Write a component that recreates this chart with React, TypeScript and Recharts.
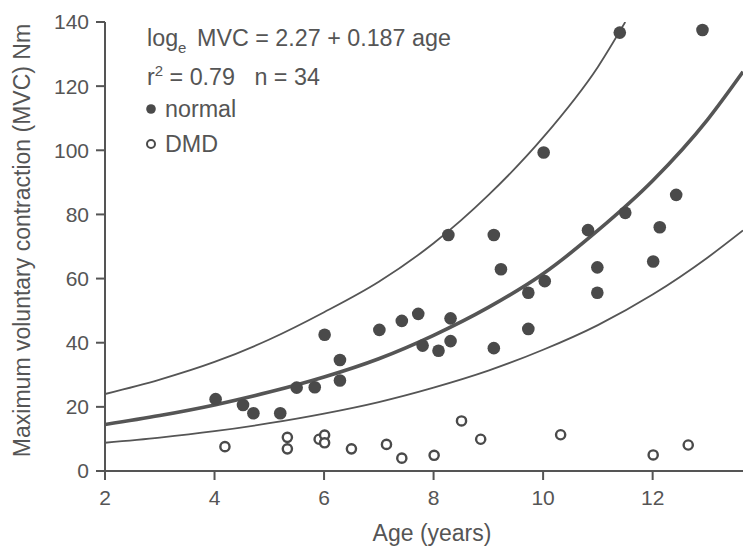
import React from 'react';
import { ComposedChart, XAxis, YAxis, Line, Scatter } from 'recharts';

// Tick labels
const xTicks = [2, 4, 6, 8, 10, 12];
const yTicks = [0, 20, 40, 60, 80, 100, 120, 140];

// Normal subjects (filled circles)
const normalAge = [4.02, 4.52, 4.71, 5.2, 5.5, 5.83, 6.01, 6.29, 6.29, 7.01, 7.42, 7.72, 7.8, 8.09, 8.27, 8.31, 8.31, 9.1, 9.23, 9.1, 9.73, 9.73, 10.03, 10.01, 10.82, 10.99, 10.99, 11.5, 12.13, 12.01, 12.43, 11.4, 12.91];
const normalMVC = [22.4, 20.6, 18.0, 18.0, 26.0, 26.1, 42.5, 34.6, 28.2, 44.0, 46.8, 49.0, 39.1, 37.5, 73.6, 47.6, 40.5, 73.6, 62.9, 38.3, 55.6, 44.3, 59.2, 99.3, 75.1, 63.5, 55.6, 80.5, 76.0, 65.3, 86.1, 136.7, 137.5];

// DMD subjects (open circles)
const dmdAge = [4.19, 5.33, 5.33, 5.91, 6.01, 6.01, 6.5, 7.14, 7.42, 8.01, 8.51, 8.86, 10.32, 12.01, 12.65];
const dmdMVC = [7.6, 10.5, 6.9, 9.9, 11.2, 8.8, 6.9, 8.3, 4.0, 4.9, 15.6, 9.9, 11.3, 5.0, 8.1];

// Regression curve and bounds
const fitAge = [2, 3, 4, 5, 6, 7, 8, 9, 10, 11, 12, 13, 13.65];
const fitMVC = [14.5, 17.3, 20.6, 24.6, 29.3, 35, 42.3, 51, 61.5, 75, 90.5, 109.5, 124.5];
const upperAge = [2, 3, 4, 5, 6, 7, 8, 9, 10, 11, 11.5];
const upperMVC = [24, 28.5, 34, 41, 49.5, 59, 71, 86, 104, 126, 140];
const lowerAge = [2, 3, 4, 5, 6, 7, 8, 9, 10, 11, 12, 13, 13.65];
const lowerMVC = [8.8, 10.4, 12.4, 14.9, 17.9, 21.5, 26, 31.3, 37.8, 45.5, 55, 66.5, 75];

const zip = (xs: number[], ys: number[]) => xs.map((x, i) => ({ x, y: ys[i] }));

const normalData = zip(normalAge, normalMVC);
const dmdData = zip(dmdAge, dmdMVC);
const fitData = zip(fitAge, fitMVC);
const upperData = zip(upperAge, upperMVC);
const lowerData = zip(lowerAge, lowerMVC);

const INK = '#555555';
const DOT = '#4a4a4a';
const FONT = '"Liberation Sans", Arial, Helvetica, sans-serif';

const FilledDot = (props: any) => (
  <circle cx={props.cx} cy={props.cy} r={6.3} fill={DOT} />
);
const OpenDot = (props: any) => (
  <circle cx={props.cx} cy={props.cy} r={4.6} fill="#ffffff" stroke={DOT} strokeWidth={2.4} />
);

export default function App() {
  return (
    <div style={{ position: 'absolute', left: 0, top: 0, width: 743, height: 549, background: '#ffffff', fontFamily: FONT }}>
      <ComposedChart width={743} height={549} margin={{ top: 22, right: 0, bottom: 0, left: 0 }}>
        <XAxis
          type="number"
          dataKey="x"
          domain={[2, 13.65]}
          ticks={xTicks}
          interval={0}
          allowDataOverflow
          height={78}
          tickSize={9}
          tickMargin={10}
          axisLine={{ stroke: INK, strokeWidth: 2 }}
          tickLine={{ stroke: INK, strokeWidth: 2 }}
          tick={{ fill: INK, fontSize: 21, fontFamily: FONT }}
          label={{
            content: (p: any) => {
              const vb = p.viewBox || { x: 105, y: 471, width: 638 };
              return (
                <text x={vb.x + vb.width / 2 + 8} y={vb.y + 70} textAnchor="middle" fill={INK} fontSize={23} fontFamily={FONT}>
                  Age (years)
                </text>
              );
            },
          }}
        />
        <YAxis
          type="number"
          domain={[0, 140]}
          ticks={yTicks}
          interval={0}
          allowDataOverflow
          width={105}
          tickSize={9}
          tickMargin={7}
          axisLine={{ stroke: INK, strokeWidth: 2 }}
          tickLine={{ stroke: INK, strokeWidth: 2 }}
          tick={{ fill: INK, fontSize: 21, fontFamily: FONT }}
          label={{
            content: (p: any) => {
              const vb = p.viewBox || { x: 0, y: 22, height: 449 };
              const cx = 30;
              const cy = vb.y + vb.height / 2 - 6;
              return (
                <text x={cx} y={cy} transform={`rotate(-90 ${cx} ${cy})`} textAnchor="middle" fill={INK} fontSize={23} fontFamily={FONT}>
                  Maximum voluntary contraction (MVC) Nm
                </text>
              );
            },
          }}
        />
        <Line data={upperData} dataKey="y" type="monotone" stroke={INK} strokeWidth={1.8} dot={false} activeDot={false} isAnimationActive={false} />
        <Line data={lowerData} dataKey="y" type="monotone" stroke={INK} strokeWidth={1.8} dot={false} activeDot={false} isAnimationActive={false} />
        <Line data={fitData} dataKey="y" type="monotone" stroke={INK} strokeWidth={3.6} dot={false} activeDot={false} isAnimationActive={false} />
        <Scatter data={normalData} dataKey="y" shape={FilledDot} isAnimationActive={false} />
        <Scatter data={dmdData} dataKey="y" shape={OpenDot} isAnimationActive={false} />
      </ComposedChart>
      <svg width={743} height={549} style={{ position: 'absolute', left: 0, top: 0, pointerEvents: 'none' }}>
        <g fill={INK} fontFamily={FONT} fontSize={23.3}>
          <text x={147} y={46}>
            log
            <tspan fontSize={15} dy={7}>e</tspan>
            <tspan x={197} dy={-7}>MVC = 2.27 + 0.187 age</tspan>
          </text>
          <text x={147} y={85}>
            r
            <tspan fontSize={15} dy={-9}>2</tspan>
            <tspan dy={9}>{'\u00a0= 0.79\u00a0\u00a0\u00a0n = 34'}</tspan>
          </text>
          <circle cx={151} cy={109} r={4.8} fill={DOT} />
          <text x={165} y={117}>normal</text>
          <circle cx={151} cy={144} r={4} fill="#ffffff" stroke={DOT} strokeWidth={2} />
          <text x={165} y={152}>DMD</text>
        </g>
      </svg>
    </div>
  );
}
